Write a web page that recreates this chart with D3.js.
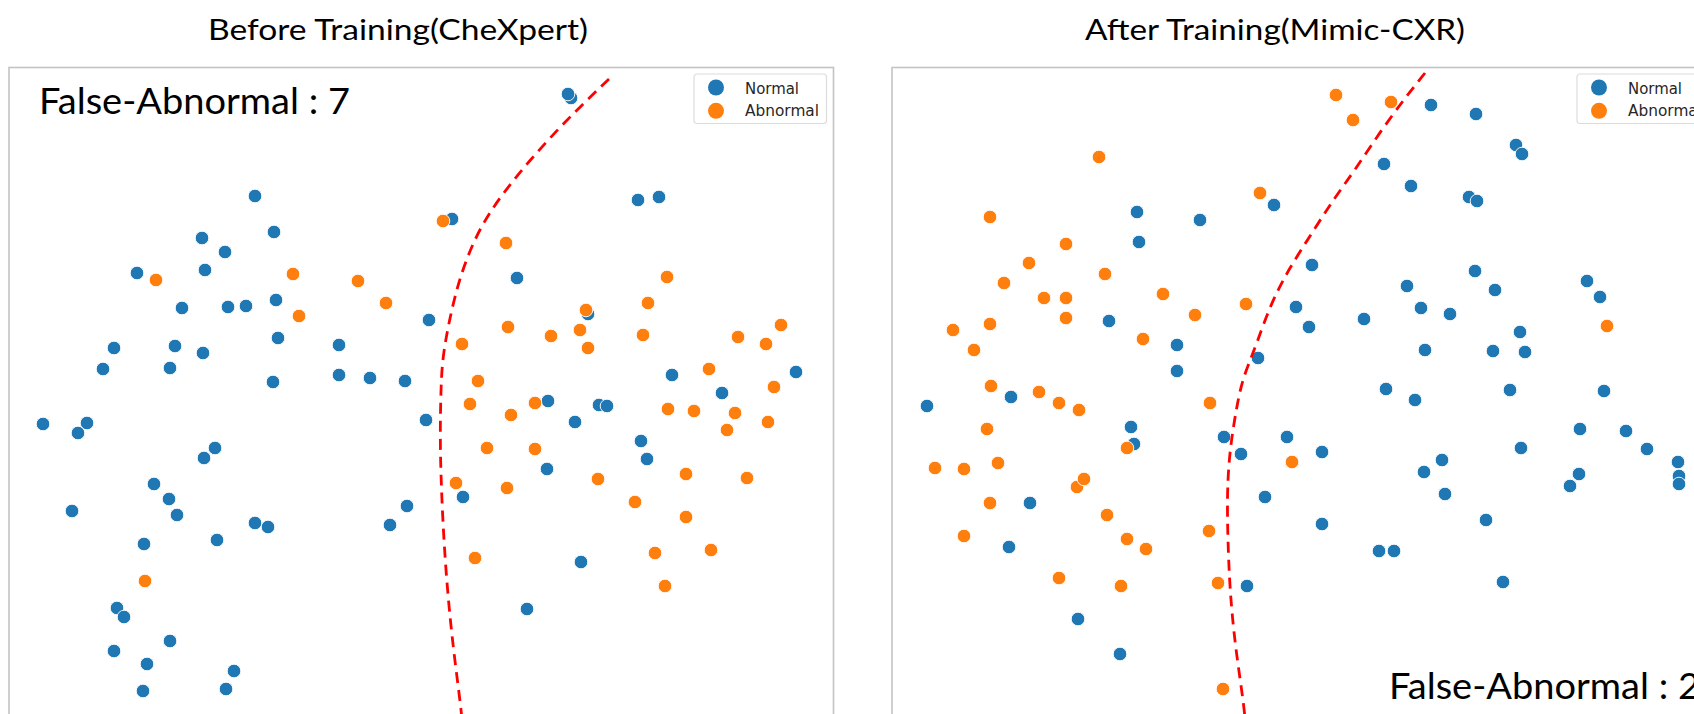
<!DOCTYPE html>
<html>
<head>
<meta charset="utf-8">
<script src="https://cdn.jsdelivr.net/npm/d3@7/dist/d3.min.js"></script>
<style>
  html, body { margin: 0; padding: 0; background: #ffffff; }
  svg { display: block; }
</style>
</head>
<body>
<svg id="chart" width="1694" height="714"></svg>
<script>
// ---- t-SNE embedding of normal / abnormal samples, before and after training ----

const classNames = ["Normal", "Abnormal"];
const panelTitles = ["Before Training(CheXpert)", "After Training(Mimic-CXR)"];
const falseAbnormalCounts = [7, 2];

// Before training (CheXpert): embedding coordinates [x, y]
const beforeNormal = [
  [255,196],[274,232],[202,238],[225,252],[205,270],[137,273],[182,308],[228,307],
  [246,306],[276,300],[114,348],[175,346],[203,353],[278,338],[339,345],[103,369],
  [170,368],[273,382],[339,375],[370,378],[405,381],[429,320],[571,98],[568,94],
  [452,219],[638,200],[659,197],[517,278],[588,314],[672,375],[796,372],[722,393],
  [426,420],[43,424],[87,423],[78,433],[215,448],[204,458],[154,484],[169,499],
  [177,515],[72,511],[144,544],[217,540],[255,523],[268,527],[407,506],[390,525],
  [117,608],[124,617],[170,641],[114,651],[147,664],[234,671],[143,691],[226,689],
  [548,401],[599,405],[607,406],[575,422],[641,441],[647,459],[547,469],[463,497],
  [581,562],[527,609]
];
const beforeAbnormal = [
  [156,280],[293,274],[358,281],[386,303],[299,316],[443,221],[506,243],[667,277],
  [648,303],[586,310],[508,327],[580,330],[551,336],[462,344],[588,348],[643,335],
  [738,337],[781,325],[766,344],[709,369],[478,381],[774,387],[145,581],[470,404],
  [535,403],[511,415],[668,409],[694,411],[735,413],[727,430],[768,422],[487,448],
  [535,449],[456,483],[507,488],[598,479],[686,474],[747,478],[635,502],[686,517],
  [475,558],[655,553],[711,550],[665,586]
];
// Hand-drawn separating boundary, before training
const beforeBoundary = [
  [609,79],[587,100],[560,127],[530,160],[503,193],[480,227],[463,267],[452,307],
  [443,353],[441,383],[440,435],[441,478],[443,525],[446,572],[450,618],[455,662],
  [461,708],[463,730]
];

// After training (Mimic-CXR): embedding coordinates [x, y]
const afterNormal = [
  [1137,212],[1200,220],[1139,242],[1109,321],[1177,345],[1177,371],[1258,358],[1274,205],
  [1011,397],[1431,105],[1476,114],[1516,145],[1522,154],[1384,164],[1411,186],[1469,197],
  [1477,201],[1312,265],[1475,271],[1407,286],[1495,290],[1587,281],[1600,297],[1296,307],
  [1421,308],[1450,314],[1364,319],[1309,327],[1520,332],[1425,350],[1493,351],[1525,352],
  [1386,389],[1510,390],[1604,391],[927,406],[1131,427],[1134,444],[1224,437],[1241,454],
  [1265,497],[1030,503],[1009,547],[1247,586],[1078,619],[1120,654],[1287,437],[1322,452],
  [1322,524],[1415,400],[1580,429],[1626,431],[1521,448],[1647,449],[1442,460],[1424,472],
  [1445,494],[1579,474],[1570,486],[1678,462],[1679,476],[1679,484],[1486,520],[1379,551],
  [1394,551],[1503,582]
];
const afterAbnormal = [
  [1099,157],[990,217],[1260,193],[1066,244],[1029,263],[1004,283],[1105,274],[1044,298],
  [1066,298],[1163,294],[1246,304],[1195,315],[1066,318],[990,324],[953,330],[974,350],
  [1143,339],[991,386],[1039,392],[1336,95],[1353,120],[1391,102],[1607,326],[1059,403],
  [1079,410],[1210,403],[987,429],[1127,448],[935,468],[964,469],[998,463],[1077,487],
  [1084,479],[990,503],[1107,515],[1209,531],[964,536],[1127,539],[1146,549],[1059,578],
  [1121,586],[1218,583],[1223,689],[1292,462]
];
// Hand-drawn separating boundary, after training
const afterBoundary = [
  [1425,73],[1405,98],[1380,132],[1355,170],[1333,200],[1312,233],[1290,267],[1271,303],
  [1257,343],[1245,373],[1240,390],[1234,422],[1229,458],[1227,498],[1228,545],[1230,592],
  [1235,645],[1244,705],[1246,730]
];

const xDomains = [[9, 833.5], [892, 1716.5]];
const yDomain = [67.5, 740];

// ---- layout and style ----
const palette = ["#1f77b4", "#ff7f0e"];
const frameW = 824.5, frameH = 672.5, frameTop = 67.5;
const frameLefts = [9, 892];

const panels = [
  { title: panelTitles[0], titleX: 398, count: falseAbnormalCounts[0],
    countX: 39, countY: 113.5,
    sets: [beforeNormal, beforeAbnormal], boundary: beforeBoundary },
  { title: panelTitles[1], titleX: 1275, count: falseAbnormalCounts[1],
    countX: 1389 - 892, countY: 698.5 - frameTop,
    sets: [afterNormal, afterAbnormal], boundary: afterBoundary }
];

const svg = d3.select("#chart");

panels.forEach((p, i) => {
  // panel title
  svg.append("text")
    .attr("x", p.titleX).attr("y", 39.5)
    .attr("text-anchor", "middle")
    .attr("font-family", "Lato, 'Open Sans', sans-serif")
    .attr("font-size", 29)
    .attr("textLength", 380)
    .attr("lengthAdjust", "spacingAndGlyphs")
    .attr("fill", "#000")
    .text(p.title);

  const x = d3.scaleLinear().domain(xDomains[i]).range([0, frameW]);
  const y = d3.scaleLinear().domain(yDomain).range([0, frameH]);

  const g = svg.append("g").attr("transform", `translate(${frameLefts[i]},${frameTop})`);

  // plot frame
  g.append("rect")
    .attr("x", 0).attr("y", 0).attr("width", frameW).attr("height", frameH)
    .attr("fill", "none").attr("stroke", "#c4c4c4").attr("stroke-width", 1.6);

  // scatter points, normal first then abnormal
  p.sets.forEach((pts, c) => {
    g.append("g").selectAll("circle").data(pts).join("circle")
      .attr("cx", d => x(d[0]))
      .attr("cy", d => y(d[1]))
      .attr("r", 6.8)
      .attr("fill", palette[c])
      .attr("stroke", "#ffffff")
      .attr("stroke-width", 0.9);
  });

  // dashed decision boundary
  const line = d3.line().x(d => x(d[0])).y(d => y(d[1])).curve(d3.curveBasis);
  g.append("path")
    .attr("d", line(p.boundary))
    .attr("fill", "none")
    .attr("stroke", "#ff0000")
    .attr("stroke-width", 2.8)
    .attr("stroke-dasharray", "11,7");

  // false-abnormal annotation
  const label = i === 0 ? p.countY - frameTop : p.countY;
  g.append("text")
    .attr("x", i === 0 ? p.countX - frameLefts[0] : p.countX)
    .attr("y", label)
    .attr("font-family", "Lato, 'Open Sans', sans-serif")
    .attr("font-size", 36)
    .attr("textLength", 311)
    .attr("lengthAdjust", "spacingAndGlyphs")
    .attr("fill", "#000")
    .text(`False-Abnormal : ${p.count}`);

  // legend in the upper right corner
  const lg = g.append("g").attr("transform", `translate(${frameW - 7 - 132.5},${6.5})`);
  lg.append("rect")
    .attr("width", 132.5).attr("height", 49.5)
    .attr("rx", 3).attr("ry", 3)
    .attr("fill", "#ffffff").attr("fill-opacity", 0.85)
    .attr("stroke", "#dcdcdc").attr("stroke-width", 1.2);
  const widths = [54, 74];
  classNames.forEach((name, c) => {
    lg.append("circle")
      .attr("cx", 22).attr("cy", 13.5 + c * 23.3)
      .attr("r", 8).attr("fill", palette[c]);
    lg.append("text")
      .attr("x", 51).attr("y", 19.5 + c * 22.7)
      .attr("font-family", "'DejaVu Sans', sans-serif")
      .attr("font-size", 16.5)
      .attr("textLength", widths[c])
      .attr("lengthAdjust", "spacingAndGlyphs")
      .attr("fill", "#262626")
      .text(name);
  });
});
</script>
</body>
</html>
